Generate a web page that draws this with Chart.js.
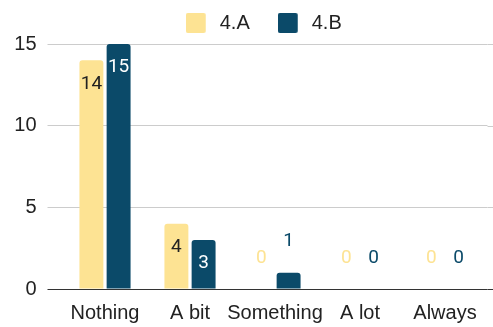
<!DOCTYPE html>
<html>
<head>
<meta charset="utf-8">
<script src="https://cdn.jsdelivr.net/npm/chart.js@4/dist/chart.umd.min.js"></script>
<style>
  html, body { margin: 0; padding: 0; background: #fff; }
  #wrap { width: 493px; height: 327px; }
</style>
</head>
<body>
<div id="wrap"><canvas id="barCanvas"></canvas></div>
<script>
const categories = ['Nothing', 'A bit', 'Something', 'A lot', 'Always'];
const seriesA = [14, 4, 0, 0, 0]; // 4.A
const seriesB = [15, 3, 1, 0, 0]; // 4.B
const yTicks = [0, 5, 10, 15];

const colorA = '#fde393';
const colorB = '#0b4a69';

// legend swatch: 20px square with some empty room after it
function swatch(color) {
  const c = document.createElement('canvas');
  c.width = 24;
  c.height = 20;
  const g = c.getContext('2d');
  g.fillStyle = color;
  g.beginPath();
  g.roundRect(0, 0, 20, 20, 2);
  g.fill();
  return c;
}

// value labels: inside the bar top when it fits, above it otherwise
const valueLabels = {
  id: 'valueLabels',
  afterDatasetsDraw(chart) {
    const ctx = chart.ctx;
    ctx.save();
    ctx.font = '19px Roboto';
    ctx.textAlign = 'center';
    ctx.textBaseline = 'middle';
    chart.data.datasets.forEach((ds, i) => {
      const meta = chart.getDatasetMeta(i);
      meta.data.forEach((bar, j) => {
        const h = bar.base - bar.y;
        if (h > 40) {
          ctx.fillStyle = ds.insideColor;
          ctx.fillText(ds.data[j], bar.x, bar.y + 23.5);
        } else {
          ctx.fillStyle = ds.backgroundColor;
          ctx.fillText(ds.data[j], bar.x, bar.y - 31);
        }
      });
    });
    ctx.restore();
  }
};

// gridlines run a little past the plot on the right
const gridRight = {
  id: 'gridRight',
  beforeDatasetsDraw(chart) {
    const y = chart.scales.y;
    const ctx = chart.ctx;
    ctx.save();
    ctx.lineWidth = 1;
    y.ticks.forEach(t => {
      const py = Math.round(y.getPixelForValue(t.value)) + 0.5;
      ctx.strokeStyle = t.value === 0 ? '#333333' : '#cccccc';
      ctx.beginPath();
      ctx.moveTo(chart.chartArea.right, py);
      ctx.lineTo(chart.width, py);
      ctx.stroke();
    });
    ctx.restore();
  }
};

// fixed legend height, and legend sits a bit right of centre
const legendFix = {
  id: 'legendFix',
  beforeInit(chart) {
    const fit = chart.legend.fit;
    chart.legend.fit = function () {
      fit.bind(chart.legend)();
      this.height = 59;
    };
  },
  afterLayout(chart) {
    chart.legend.left += 40;
  }
};

const barChart = new Chart(document.getElementById('barCanvas'), {
  type: 'bar',
  data: {
    labels: categories,
    datasets: [{
      label: '4.A',
      data: seriesA,
      backgroundColor: colorA,
      insideColor: '#222222',
      swatch: swatch(colorA),
      borderRadius: 3,
      borderSkipped: 'bottom'
    }, {
      label: '4.B',
      data: seriesB,
      backgroundColor: colorB,
      insideColor: '#ffffff',
      swatch: swatch(colorB),
      borderRadius: 3,
      borderSkipped: 'bottom'
    }]
  },
  options: {
    responsive: true,
    maintainAspectRatio: false,
    animation: false,
    datasets: {
      bar: { categoryPercentage: 0.64, barPercentage: 0.88 }
    },
    layout: { padding: { top: -15, right: 5.5, bottom: -10, left: 0 } },
    plugins: {
      legend: {
        position: 'top',
        labels: {
          usePointStyle: true,
          pointStyleWidth: 24,
          boxHeight: 20,
          padding: 28,
          color: '#222222',
          font: { family: 'Liberation Sans', size: 20 },
          generateLabels(chart) {
            const items = Chart.defaults.plugins.legend.labels.generateLabels(chart);
            items.forEach(it => { it.pointStyle = chart.data.datasets[it.datasetIndex].swatch; });
            return items;
          }
        }
      },
      tooltip: { enabled: false }
    },
    scales: {
      x: {
        grid: { display: false, drawTicks: false },
        border: { display: false },
        ticks: {
          color: '#222222',
          padding: 12,
          maxRotation: 0,
          autoSkip: false,
          font: { family: 'Liberation Sans', size: 20 }
        }
      },
      y: {
        min: 0,
        max: 15,
        afterFit(scale) { scale.width = 62.5; },
        afterBuildTicks(scale) { scale.ticks = yTicks.map(v => ({ value: v })); },
        grid: {
          color: ctx => ctx.tick && ctx.tick.value === 0 ? '#333333' : '#cccccc',
          drawTicks: true,
          tickLength: 15
        },
        border: { display: false },
        ticks: {
          color: '#222222',
          padding: 11,
          font: { family: 'Liberation Sans', size: 20 }
        }
      }
    }
  },
  plugins: [legendFix, gridRight, valueLabels]
});
</script>
</body>
</html>
